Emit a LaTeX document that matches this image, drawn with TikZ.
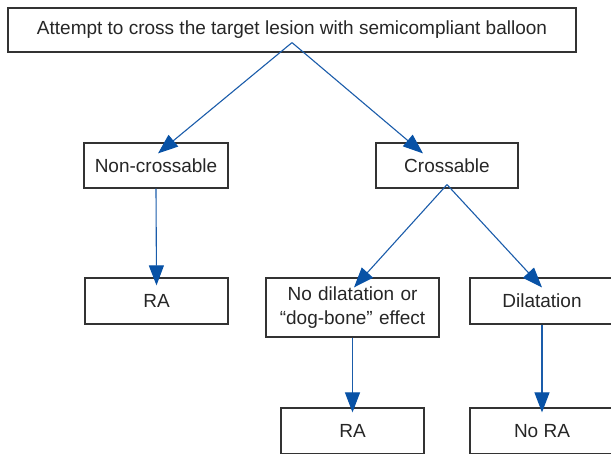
\documentclass[tikz,border=0pt]{standalone}
\usepackage{fontspec}
\setmainfont{Liberation Sans}
\usepackage{tikz}
\usetikzlibrary{arrows.meta}
\definecolor{flowblue}{HTML}{1A5CAA}
\definecolor{tipblue}{HTML}{0852A6}
\definecolor{boxgray}{HTML}{333333}
\tikzstyle{box} = [rectangle, draw=boxgray, line width=1.2pt, text centered, inner sep=0pt, text=black!85, font=\fontsize{19}{24}\selectfont]
\tikzstyle{arrow} = [line width=1.1pt, draw=flowblue, -{Triangle[length=20pt, width=15pt, fill=tipblue, color=tipblue]}]

\begin{document}
\begin{tikzpicture}[x=1pt, y=-1pt]
    \useasboundingbox (0,0) rectangle (611,453);
    \clip (0,0) rectangle (611,453);

    \node[box, minimum width=568pt, minimum height=44pt] (attempt) at (292,30) {Attempt to cross the target lesion with semicompliant balloon};
    \node[box, minimum width=144pt, minimum height=45pt] (noncross) at (156,165.5) {Non-crossable};
    \node[box, minimum width=142pt, minimum height=45pt] (cross) at (447,165.5) {Crossable};
    \node[box, minimum width=143pt, minimum height=46pt] (raleft) at (156.5,301) {RA};
    \node[box, minimum width=173pt, minimum height=59pt, text width=170pt, align=center] (nodil) at (352.5,307.5) {No dilatation or\\``dog-bone'' effect};
    \node[box, minimum width=144pt, minimum height=46pt] (dil) at (542,301) {Dilatation};
    \node[box, minimum width=143pt, minimum height=46pt] (ramid) at (352.5,431) {RA};
    \node[box, minimum width=144pt, minimum height=46pt] (nora) at (542,431) {No RA};

    % split points below the boxes
    \coordinate (split1) at ([yshift=10pt]attempt.south);
    \coordinate (split2) at ([yshift=4pt]cross.south);

    \draw[arrow] (split1) -- ([xshift=2pt, yshift=-11pt]noncross.north);
    \draw[arrow] (split1) -- ([xshift=-24pt, yshift=-11pt]cross.north);
    \draw[arrow] (noncross.south) -- ([yshift=-8pt]raleft.north);
    \draw[arrow] (split2) -- ([xshift=1.5pt, yshift=-10pt]nodil.north);
    \draw[arrow] (split2) -- ([yshift=-10pt]dil.north);
    \draw[arrow] (nodil.south) -- ([yshift=-5pt]ramid.north);
    \draw[arrow] (dil.south) -- ([yshift=-5pt]nora.north);
\end{tikzpicture}
\end{document}
